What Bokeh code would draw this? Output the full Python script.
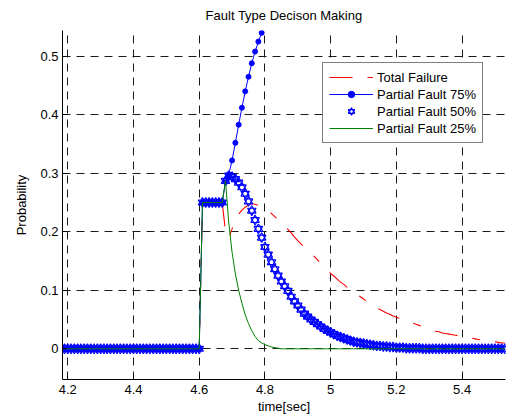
import numpy as np
from bokeh.plotting import figure
from bokeh.models import (Range1d, FixedTicker, CustomJSTickFormatter, Legend,
                          LegendItem)
from bokeh.embed import file_html
from bokeh.resources import INLINE

# ---------------- data ----------------
time = np.round(np.arange(4.18, 5.535, 0.01), 2)   # 4.18 ... 5.53 (136 samples)

before_fault = [0.0] * 43    # 4.18 ... 4.60
plateau = [0.25] * 7         # 4.61 ... 4.67

total_failure = before_fault + plateau + [
    0.200, 0.190,                                                        # 4.68-4.69
    0.205, 0.220, 0.230, 0.237, 0.242, 0.246, 0.248, 0.247, 0.245, 0.243,  # 4.70-4.79
    0.240, 0.236, 0.231, 0.226, 0.221, 0.215, 0.210, 0.204, 0.198, 0.191,  # 4.80-4.89
    0.185, 0.179, 0.174, 0.169, 0.164, 0.158, 0.152, 0.146, 0.140, 0.134,  # 4.90-4.99
    0.129, 0.124, 0.119, 0.114, 0.110, 0.105, 0.101, 0.097, 0.093, 0.089,  # 5.00-5.09
    0.085, 0.081, 0.077, 0.073, 0.070, 0.067, 0.064, 0.061, 0.059, 0.056,  # 5.10-5.19
    0.054, 0.052, 0.050, 0.048, 0.046, 0.044, 0.042, 0.040, 0.037, 0.035,  # 5.20-5.29
    0.033, 0.031, 0.030, 0.029, 0.027, 0.026, 0.025, 0.024, 0.023, 0.022,  # 5.30-5.39
    0.021, 0.020, 0.019, 0.018, 0.017, 0.016, 0.015, 0.014, 0.013, 0.012,  # 5.40-5.49
    0.012, 0.011, 0.010, 0.010,                                          # 5.50-5.53
]

partial_75 = before_fault + plateau + [
    0.285, 0.298,                                                        # 4.68-4.69
    0.322, 0.352, 0.383, 0.412, 0.440, 0.465, 0.488, 0.508, 0.525, 0.540,  # 4.70-4.79
]

partial_50 = before_fault + plateau + [
    0.287, 0.296,                                                        # 4.68-4.69
    0.294, 0.290, 0.284, 0.276, 0.265, 0.252, 0.236, 0.220, 0.205, 0.190,  # 4.70-4.79
    0.174, 0.161, 0.148, 0.136, 0.125, 0.115, 0.107, 0.099, 0.089, 0.081,  # 4.80-4.89
    0.074, 0.067, 0.060, 0.055, 0.050, 0.046, 0.042, 0.038, 0.034, 0.031,  # 4.90-4.99
    0.028, 0.025, 0.022, 0.020, 0.018, 0.016, 0.014, 0.012, 0.011, 0.010,  # 5.00-5.09
    0.009, 0.008, 0.007, 0.006, 0.005, 0.005, 0.004, 0.004, 0.003, 0.003,  # 5.10-5.19
    0.002, 0.002, 0.002, 0.001, 0.001, 0.001, 0.001, 0.001, 0.000, 0.000,  # 5.20-5.29
] + [0.0] * 24                                                            # 5.30-5.53

partial_25 = before_fault + plateau + [
    0.287, 0.215,                                                        # 4.68-4.69
    0.165, 0.128, 0.100, 0.078, 0.058, 0.043, 0.031, 0.021, 0.014, 0.010,  # 4.70-4.79
    0.007, 0.005, 0.003, 0.002, 0.001,                                   # 4.80-4.84
] + [0.0] * 69                                                            # 4.85-5.53

x_ticks = [4.2, 4.4, 4.6, 4.8, 5.0, 5.2, 5.4]
y_ticks = [0.0, 0.1, 0.2, 0.3, 0.4, 0.5]

labels = ["Total Failure", "Partial Fault 75%", "Partial Fault 50%", "Partial Fault 25%"]
title_text = "Fault Type Decison Making"
x_label = "time[sec]"
y_label = "Probability"

# ---------------- figure ----------------
FONT = "Liberation Sans"
FS = "13px"

p = figure(width=509, height=418, output_backend="svg", toolbar_location=None,
           x_range=Range1d(4.184, 5.532), y_range=Range1d(-0.0525, 0.544),
           min_border_left=62, min_border_right=4, min_border_top=30,
           min_border_bottom=39)
p.outline_line_color = None
p.background_fill_color = "white"
p.border_fill_color = "white"

p.title.text = title_text
p.title.align = "center"
p.title.text_font = FONT
p.title.text_font_size = FS
p.title.text_font_style = "normal"
p.title.text_color = "black"
p.title.standoff = 12
p.title.vertical_align = "top"

fmt = CustomJSTickFormatter(code="return String(Number(tick.toFixed(4)));")
for ax, ticks, lab in ((p.xaxis[0], x_ticks, x_label), (p.yaxis[0], y_ticks, y_label)):
    ax.ticker = FixedTicker(ticks=ticks)
    ax.formatter = fmt
    ax.axis_label = lab
    ax.axis_label_text_font = FONT
    ax.axis_label_text_font_size = FS
    ax.axis_label_text_font_style = "normal"
    ax.axis_label_text_color = "black"
    ax.major_label_text_font = FONT
    ax.major_label_text_font_size = FS
    ax.major_label_text_color = "black"
    ax.axis_line_color = "black"
    ax.major_tick_line_color = "black"
    ax.major_tick_in = 4
    ax.major_tick_out = 0
    ax.minor_tick_line_color = None
p.xaxis.major_label_standoff = 5
p.xaxis.axis_label_standoff = 2
p.yaxis.major_label_standoff = 4
p.yaxis.axis_label_standoff = 8

for g in (p.xgrid[0], p.ygrid[0]):
    g.grid_line_color = "#1a1a1a"
    g.grid_line_dash = "8 6"
    g.grid_line_width = 1

# ---------------- glyphs ----------------
r_total = p.line(time, total_failure, line_color="#ff0000", line_width=1.1,
                 line_dash="23 15 8 15")

t75 = time[:len(partial_75)]
r75_line = p.line(t75, partial_75, line_color="#0000ff", line_width=1)
r75_dot = p.scatter(t75, partial_75, marker="circle", size=5,
                    fill_color="#0000ff", line_color="#0000ff")

r50_a = p.scatter(time, partial_50, marker="triangle", size=8.5,
                  fill_color=None, line_color="#0000ff", line_width=1.2)
r50_b = p.scatter(time, partial_50, marker="inverted_triangle", size=8.5,
                  fill_color=None, line_color="#0000ff", line_width=1.2)

r25 = p.line(time, partial_25, line_color="#008000", line_width=1)

legend = Legend(items=[
    LegendItem(label=labels[0], renderers=[r_total]),
    LegendItem(label=labels[1], renderers=[r75_line, r75_dot]),
    LegendItem(label=labels[2], renderers=[r50_a, r50_b]),
    LegendItem(label=labels[3], renderers=[r25]),
])
legend.location = (260, 236)
legend.border_line_color = "black"
legend.border_line_width = 1
legend.background_fill_color = "white"
legend.background_fill_alpha = 1
legend.label_text_font = FONT
legend.label_text_font_size = FS
legend.label_text_color = "black"
legend.glyph_width = 44
legend.glyph_height = 16
legend.label_height = 16
legend.label_standoff = 4
legend.spacing = 1
legend.padding = 6
legend.margin = 0
p.add_layout(legend)

open("out.html", "w").write(file_html(p, INLINE))
